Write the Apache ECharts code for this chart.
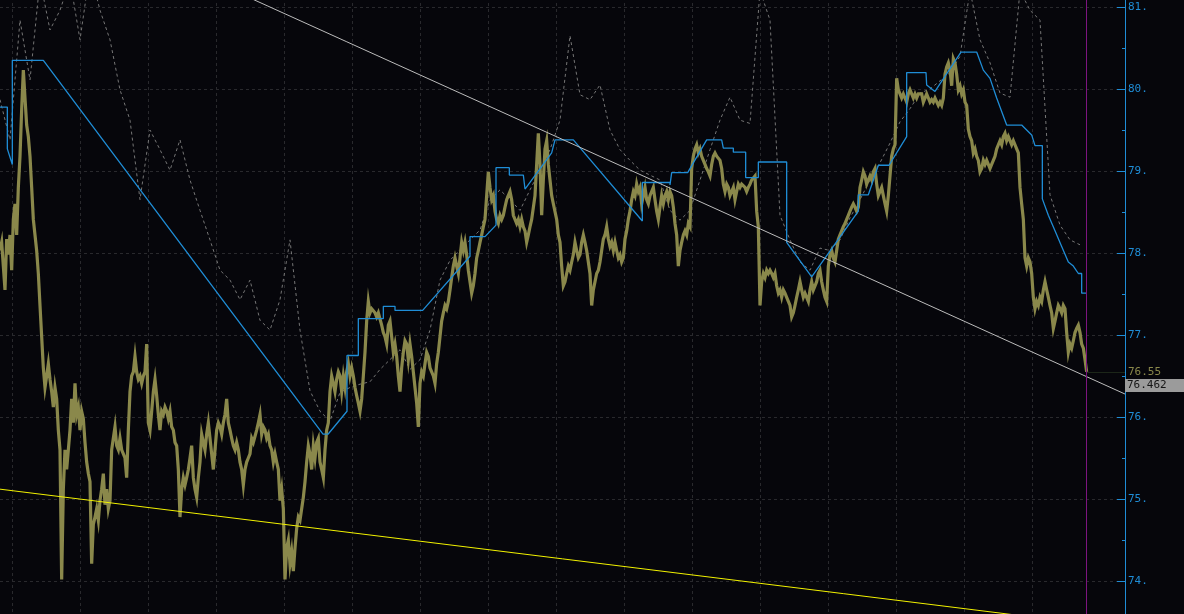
<!DOCTYPE html>
<html><head><meta charset="utf-8">
<script src="https://cdn.jsdelivr.net/npm/echarts@6/dist/echarts.min.js"></script>
<style>html,body{margin:0;padding:0;background:#06060b;overflow:hidden;width:1184px;height:614px;position:relative}#c{position:absolute;left:0;top:-75px;width:1184px;height:738px;}</style>
</head><body><div id="c"></div><script>
// price (olive) sampled per bar
const priceValues = [
78.03,78.13,77.84,77.55,78.17,77.98,78.22,77.79,78.41,78.60,
78.22,78.80,79.18,79.75,80.23,79.89,79.56,79.42,79.18,78.80,
78.41,78.22,78.03,77.75,77.36,76.98,76.60,76.36,76.50,76.65,
76.46,76.31,76.12,76.36,76.22,75.84,75.60,74.02,75.12,75.60,
75.36,75.60,75.84,76.22,75.93,76.41,76.03,76.12,75.84,76.07,
75.98,75.69,75.45,75.31,75.21,74.21,74.69,74.78,74.88,74.74,
74.98,75.12,75.31,74.93,75.12,74.88,74.98,75.60,75.74,75.88,
75.65,75.60,75.74,75.60,75.60,75.50,75.26,75.84,76.31,76.50,
76.55,76.74,76.55,76.46,76.50,76.41,76.50,76.55,76.89,75.93,
75.84,76.07,76.31,76.46,76.26,76.03,75.84,76.07,76.03,76.12,
76.07,75.98,76.07,75.88,75.84,75.69,75.65,75.36,74.78,75.12,
75.26,
75.17,75.26,75.36,75.50,75.65,75.26,75.12,75.02,75.26,75.45,
75.79,75.69,75.60,75.79,75.93,75.74,75.55,75.36,75.60,75.84,
75.93,75.88,75.79,75.93,76.03,76.22,75.93,75.84,75.74,75.65,
75.60,75.69,75.60,75.45,75.36,75.17,75.36,75.45,75.50,75.55,
75.74,75.69,75.69,75.84,75.93,76.03,75.79,75.88,75.84,75.74,
75.79,75.65,75.60,75.45,75.55,75.45,75.36,74.98,75.12,74.88,
74.02,74.40,74.50,74.21,74.36,74.12,74.40,74.64,74.78,74.74,
74.88,75.02,75.21,75.45,75.65,75.55,75.36,75.65,75.50,75.69,
75.74,75.45,75.36,75.26,75.60,75.84,75.93,76.31,76.50,76.41,
76.31,76.46,76.55,76.50,76.31,76.50,76.36,76.55,76.65,76.50,
76.60,76.50,76.36,76.26,76.17,76.07,76.22,76.50,76.79,77.17,
77.41,
77.27,77.32,77.32,77.27,77.22,77.27,77.27,77.12,77.03,76.98,
76.89,77.12,77.17,76.98,76.79,76.89,76.74,76.50,76.31,76.60,
76.79,76.93,76.89,76.70,76.89,76.74,76.55,76.36,76.17,75.88,
76.41,76.55,76.50,76.65,76.79,76.74,76.60,76.55,76.50,76.41,
76.65,76.79,76.98,77.17,77.27,77.36,77.32,77.41,77.55,77.70,
77.84,77.94,77.84,77.75,77.94,78.13,78.03,78.13,77.98,77.79,
77.65,77.51,77.60,77.75,77.94,78.03,78.13,78.22,78.32,78.41,
78.70,78.99,78.80,78.65,78.70,78.51,78.41,78.36,78.46,78.41,
78.46,78.56,78.65,78.70,78.75,78.65,78.46,78.41,78.36,78.41,
78.32,78.41,78.32,78.27,78.13,78.22,78.32,78.41,78.41,78.70,
79.08,79.46,79.08,78.46,78.89,79.27,79.37,79.08,78.89,78.70,
78.60,
78.60,78.41,78.22,78.13,77.84,77.60,77.65,77.75,77.84,77.79,
77.89,77.98,78.13,78.03,77.94,77.98,78.13,78.22,78.13,78.03,
77.89,77.75,77.36,77.55,77.65,77.75,77.79,77.89,78.03,78.17,
78.22,78.32,78.17,78.08,78.13,78.03,78.13,78.03,77.94,77.98,
77.89,77.94,78.17,78.27,78.41,78.51,78.65,78.75,78.70,78.84,
78.75,78.80,78.60,78.70,78.80,78.65,78.60,78.70,78.75,78.80,
78.65,78.51,78.41,78.56,78.70,78.60,78.70,78.75,78.65,78.75,
78.70,78.56,78.36,78.22,77.84,78.03,78.13,78.22,78.27,78.22,
78.36,78.32,79.03,79.18,79.27,79.32,79.22,79.27,79.18,79.13,
79.08,79.03,78.99,78.94,79.08,79.18,79.22,79.18,79.18,79.13,
79.03,78.84,78.75,78.84,78.80,78.70,78.75,78.80,78.65,78.75,
78.84,
78.80,78.84,78.84,78.80,78.75,78.80,78.84,78.89,78.89,78.94,
78.51,78.32,77.36,77.65,77.75,77.70,77.79,77.75,77.79,77.75,
77.70,77.75,77.60,77.51,77.55,77.46,77.55,77.51,77.46,77.41,
77.36,77.22,77.27,77.36,77.46,77.55,77.65,77.55,77.46,77.51,
77.46,77.41,77.55,77.65,77.55,77.60,77.65,77.75,77.79,77.65,
77.55,77.46,77.41,77.84,77.98,78.03,77.94,77.89,78.03,78.17,
78.22,78.27,78.32,78.36,78.41,78.46,78.51,78.56,78.60,78.56,
78.51,78.56,78.80,78.89,78.99,78.94,78.84,78.89,78.94,78.89,
78.99,79.03,78.84,78.70,78.75,78.80,78.70,78.60,78.51,78.70,
78.94,79.18,79.27,79.32,80.13,79.99,79.94,79.89,79.94,79.89,
79.84,79.94,79.99,79.94,79.89,79.94,79.89,79.94,79.92,79.94,
79.84,
79.84,79.94,79.89,79.84,79.87,79.84,79.89,79.87,79.80,79.84,
79.80,79.89,80.18,80.27,80.32,80.23,80.04,80.37,80.32,80.18,
79.99,80.04,79.94,79.99,79.84,79.80,79.51,79.42,79.37,79.22,
79.27,79.18,79.13,78.99,79.03,79.13,79.08,79.13,79.08,79.03,
79.08,79.13,79.18,79.27,79.32,79.37,79.32,79.42,79.46,79.37,
79.42,79.37,79.32,79.37,79.32,79.27,79.22,78.80,78.60,78.41,
77.94,77.84,77.94,77.89,77.75,77.46,77.32,77.41,77.36,77.46,
77.41,77.55,77.65,77.55,77.46,77.36,77.27,77.08,77.17,77.27,
77.36,77.32,77.27,77.36,77.32,77.03,76.79,76.89,76.84,76.93,
77.03,77.08,77.12,77.03,76.89,76.84,76.70,76.55
];
// blue trailing stop: [bar, price]
const stopPoints = [
[0,79.78],[4.4,79.78],[4.4,79.27],[7.4,79.08],[7.4,80.35],[26,80.35],[193.8,75.79],[196.8,75.79],
[208.2,76.07],[208.2,76.75],[215,76.75],[215,77.20],[230,77.20],[230,77.35],[237,77.35],[237,77.30],
[253.6,77.30],[282,77.96],[282,78.20],[291,78.20],[297.6,78.34],[297.6,79.04],[305.6,79.04],[305.6,78.95],
[314,78.95],[315,78.78],[331,79.22],[333,79.38],[344,79.38],[385.4,78.39],[385.4,78.86],[402,78.86],
[402,78.83],[403,78.83],[403,78.98],[412.6,78.98],[424,79.38],[433,79.38],[434,79.28],[440,79.28],
[440,79.23],[447.4,79.23],[447.4,78.92],[455,78.92],[455,79.11],[472,79.11],[472,78.13],[487,77.71],
[515,78.51],[515,78.71],[521,78.71],[527,79.07],[533.4,79.07],[544,79.42],[544,80.20],[555.6,80.20],
[556,80.05],[561,79.97],[576.6,80.45],[586,80.45],[590,80.23],[594,80.13],[598,79.89],[604,79.56],
[613,79.56],[619,79.44],[621,79.31],[625.4,79.31],[625.4,78.66],[629,78.46],[633,78.27],[637,78.08],
[641,77.89],[644,77.84],[647,77.75],[649,77.75],[649,77.51],[652,77.51]
];
// gray dashed shadow series, one value every 6 bars
const shadowStep = 6;
const shadowValues = [
79.87,79.38,80.84,80.11,81.33,80.72,80.96,81.33,80.60,81.45,
80.96,80.60,79.99,79.62,78.65,79.50,79.26,79.01,79.38,78.89,
78.52,78.16,77.79,77.67,77.43,77.67,77.18,77.06,77.43,78.16,
77.06,76.32,76.07,75.95,76.30,76.36,76.40,76.43,76.58,76.70,
76.82,76.58,76.70,77.06,77.67,77.91,78.04,78.16,78.28,78.65,
78.77,78.65,78.52,78.77,79.01,79.26,79.62,80.65,79.93,79.87,
80.05,79.50,79.26,79.13,79.01,78.95,78.89,78.52,78.40,78.52,
78.89,79.26,79.62,79.90,79.62,79.58,81.20,80.84,78.46,78.16,
77.89,77.79,78.06,78.03,78.16,78.43,78.65,78.89,79.10,79.34,
79.60,79.76,79.95,80.00,80.10,80.20,80.40,81.20,80.60,80.32,
79.95,79.90,81.20,80.96,80.84,78.71,78.34,78.16,78.10
];
const upperTrend = [[0,82.49],[675,76.28]];
const lowerTrend = [[0,75.12],[675,73.42]];
const lastBar = 652;
const lastPrice = 76.55;
const quoteValue = 76.462;
const barsMax = 675;
const yMin = 73, yMax = 82;

const BLUE = '#1f8dd6', OLIVE = '#8a884b', GRID = '#29292d';
const chart = echarts.init(document.getElementById('c'), null, {renderer:'canvas'});
const option = {
  backgroundColor: '#06060b',
  animation: false,
  grid: [
    {left: 0, right: 59, top: 0, bottom: 0, containLabel:false, outerBoundsMode:'none'},
    {left: 12.7, width: 1020, top: 0, bottom: 0, containLabel:false, outerBoundsMode:'none'}
  ],
  xAxis: [
    {type:'value', min:0, max:barsMax, axisLine:{show:false, onZero:false}, axisTick:{show:false}, axisLabel:{show:false}, splitLine:{show:false}},
    {type:'value', gridIndex:1, min:0, max:1020, interval:68, axisLine:{show:false, onZero:false}, axisTick:{show:false}, axisLabel:{show:false},
     splitLine:{show:true, lineStyle:{color:GRID, type:[3,3], width:1}}}
  ],
  yAxis: [
    {type:'value', position:'right', min:yMin, max:yMax, interval:1,
     axisLine:{show:true, onZero:false, lineStyle:{color:BLUE, width:1}},
     axisTick:{show:true, inside:true, length:8, lineStyle:{color:BLUE}},
     minorTick:{show:true, splitNumber:2, length:3, lineStyle:{color:BLUE}},
     axisLabel:{color:BLUE, fontFamily:'DejaVu Sans Mono', fontSize:11, margin:3, formatter: v => v + '.'},
     splitLine:{show:true, lineStyle:{color:GRID, type:[3,3], width:1}}},
    {type:'value', gridIndex:1, min:0, max:1, show:false, axisLine:{onZero:false}}
  ],
  series: [
    {type:'line', name:'shadow', data: shadowValues.map((v,i)=>[i*shadowStep, v]), showSymbol:false, symbol:'none', clip:true,
     lineStyle:{color:'#767676', width:1, type:[3,3]}, z:1},
    {type:'line', name:'price', data: priceValues.map((v,i)=>[i, v]), showSymbol:false, symbol:'none', clip:true, sampling:null,
     lineStyle:{color:OLIVE, width:3.2, join:'miter'}, z:2,
     markLine:{silent:true, symbol:'none', animation:false,
       data:[[{coord:[lastBar,lastPrice]},{coord:[barsMax,lastPrice]}]],
       lineStyle:{color:'#1c2619', width:1, type:'solid'},
       label:{show:true, position:'end', distance:3, formatter:String(lastPrice), color:OLIVE, fontFamily:'DejaVu Sans Mono', fontSize:11}}},
    {type:'line', name:'stop', data: stopPoints, showSymbol:false, symbol:'none', clip:true,
     lineStyle:{color:BLUE, width:1.3}, z:3,
     markLine:{silent:true, symbol:'none', animation:false, label:{show:false},
       data:[{xAxis:lastBar}], lineStyle:{color:'#7d1480', width:1, type:'solid'}}},
    {type:'line', name:'upper', data: upperTrend, showSymbol:false, symbol:'none', clip:true,
     lineStyle:{color:'#bcbcbc', width:1}, z:4},
    {type:'line', name:'lower', data: lowerTrend, showSymbol:false, symbol:'none', clip:true,
     lineStyle:{color:'#f2f200', width:1}, z:4}
  ]
};
chart.setOption(option);
const qy = chart.convertToPixel({yAxisIndex:0}, quoteValue);
const ax = chart.convertToPixel({xAxisIndex:0}, barsMax);
chart.setOption({graphic:[
  {type:'rect', left: ax, top: qy, shape:{x:0, y:0, width:1184-ax, height:13}, style:{fill:'#9b9b9b'}, z:100},
  {type:'text', x: ax+2, y: qy+1, style:{text:String(quoteValue), fill:'#141414', font:'11px "DejaVu Sans Mono"', textVerticalAlign:'top'}, z:101}
]});
</script></body></html>
